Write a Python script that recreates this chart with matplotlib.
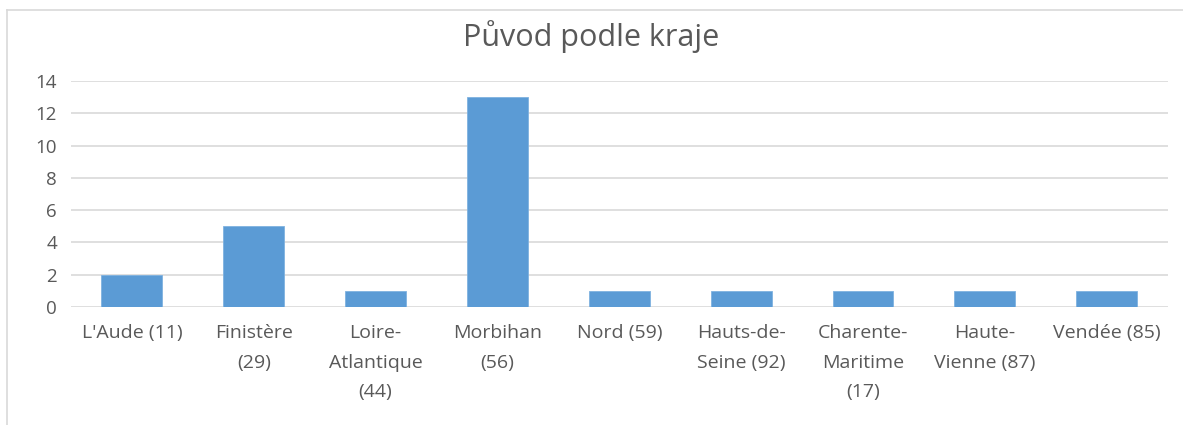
import matplotlib
matplotlib.use("Agg")
import matplotlib.pyplot as plt
from matplotlib.lines import Line2D

# data
kraje = ["L'Aude (11)", "Finistère\n(29)", "Loire-\nAtlantique\n(44)", "Morbihan\n(56)",
         "Nord (59)", "Hauts-de-\nSeine (92)", "Charente-\nMaritime\n(17)",
         "Haute-\nVienne (87)", "Vendée (85)"]
pocty = [2, 5, 1, 13, 1, 1, 1, 1, 1]
yticks = [0, 2, 4, 6, 8, 10, 12, 14]

plt.rcParams['font.family'] = ['Open Sans', 'DejaVu Sans']
text_col = '#595959'

fig = plt.figure(figsize=(11.83, 4.25), dpi=100)
ax = fig.add_axes([0.060, 0.2776, 0.927, 0.5318])

x = range(len(kraje))
ax.bar(x, pocty, width=0.5, color='#5B9BD5', edgecolor='#7FB2E0', linewidth=0.6, zorder=3)

ax.set_xlim(-0.5, len(kraje) - 0.5)
ax.set_ylim(0, 14)
ax.set_yticks(yticks)
ax.set_xticks(list(x))
ax.set_xticklabels(kraje, fontsize=14, color=text_col, linespacing=1.85, va='top')
ax.tick_params(axis='y', labelsize=13.5, labelcolor=text_col, length=0, pad=10)
ax.tick_params(axis='x', length=0, pad=12)
ax.grid(axis='y', color='#D9D9D9', linewidth=1.2, zorder=0)
for s in ax.spines.values():
    s.set_visible(False)

fig.text(0.5, 0.913, "Původ podle kraje", ha='center', va='center',
         fontsize=22, color=text_col)

# chart border (top and left visible)
fig.add_artist(Line2D([0.006, 1.0], [0.976, 0.976], transform=fig.transFigure,
                      color='#D9D9D9', linewidth=1.2))
fig.add_artist(Line2D([0.006, 0.006], [0.0, 0.976], transform=fig.transFigure,
                      color='#D9D9D9', linewidth=1.2))

fig.savefig("out.png", dpi=100)
